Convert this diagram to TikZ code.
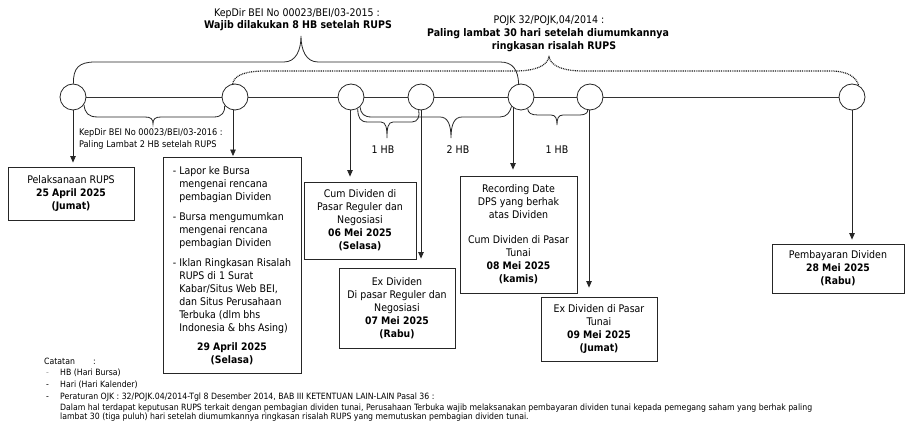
\documentclass[tikz,border=0pt]{standalone}
\usepackage{fontspec}
\setmainfont{DejaVu Sans Condensed}[BoldFont={DejaVu Sans Condensed Bold}]
\usetikzlibrary{arrows.meta}
\newcommand\nfnt{\fontsize{10.5}{13}\selectfont}
\newcommand\sfnt{\fontsize{9.1}{12}\selectfont}
\newcommand\notefnt{\fontsize{8.65}{10}\selectfont}
\newcommand\dt[1]{{\fontsize{10.3}{13}\selectfont\bfseries #1}}
\begin{document}
\begin{tikzpicture}[x=1pt,y=-1pt,
  circ/.style={circle, draw=black!85, line width=0.8pt, minimum size=26pt, inner sep=0pt, fill=white},
  box/.style={draw=black!85, line width=0.8pt, inner sep=0pt, align=center, font=\nfnt, fill=white},
  arr/.style={-{Triangle[length=6.5pt,width=5.5pt]}, line width=0.8pt, black!85},
  brc/.style={line width=0.8pt, black!85},
  dotb/.style={line width=1.2pt, dash pattern=on 0.9pt off 0.9pt, black!90},
  tl/.style={line width=0.8pt, black!80},
  lbl/.style={font=\nfnt, inner sep=0pt},
  note/.style={font=\notefnt, inner sep=0pt, anchor=base west}]
\useasboundingbox (0,0) rectangle (913,435);

% circles
\node[circ] (c1) at (73,97) {};
\node[circ] (c2) at (235,97) {};
\node[circ] (c3) at (351,97) {};
\node[circ] (c4) at (421,97) {};
\node[circ] (c5) at (521,97) {};
\node[circ] (c6) at (590,97) {};
\node[circ] (c7) at (852,97) {};

% timeline
\draw[tl] (c1) -- (c2);
\draw[tl] (c2) -- (c3);
\draw[tl] (c3) -- (c4);
\draw[tl] (c4) -- (c5);
\draw[tl] (c5) -- (c6);
\draw[tl] (c6) -- (c7);

% boxes
\node[box, minimum width=126pt, minimum height=53pt] (b1) at (71,193.5)
  {Pelaksanaan RUPS\\ \dt{25 April 2025}\\ \dt{(Jumat)}};
\node[box, minimum width=138pt, minimum height=216pt] (b2) at (232,265)
  {\begin{tabular}{@{}l@{\hspace{3pt}}l@{}}
   -& Lapor ke Bursa\\
    & mengenai rencana\\
    & pembagian Dividen\\[7pt]
   -& Bursa mengumumkan\\
    & mengenai rencana\\
    & pembagian Dividen\\[7pt]
   -& Iklan Ringkasan Risalah\\
    & RUPS di 1 Surat\\
    & Kabar/Situs Web BEI,\\
    & dan Situs Perusahaan\\
    & Terbuka (dlm bhs\\
    & Indonesia \& bhs Asing)
   \end{tabular}\\[7pt]
   \dt{29 April 2025}\\ \dt{(Selasa)}};
\node[box, minimum width=112pt, minimum height=77pt] (b3) at (360,220.5)
  {Cum Dividen di\\ Pasar Reguler dan\\ Negosiasi\\ \dt{06 Mei 2025}\\ \dt{(Selasa)}};
\node[box, minimum width=116pt, minimum height=80pt] (b4) at (397,308)
  {Ex Dividen\\ Di pasar Reguler dan\\ Negosiasi\\ \dt{07 Mei 2025}\\ \dt{(Rabu)}};
\node[box, minimum width=117pt, minimum height=117pt] (b5) at (518.5,234.5)
  {Recording Date\\ DPS yang berhak\\ atas Dividen\\[12pt] Cum Dividen di Pasar\\ Tunai\\ \dt{08 Mei 2025}\\ \dt{(kamis)}};
\node[box, minimum width=116pt, minimum height=64pt] (b6) at (599,329)
  {Ex Dividen di Pasar\\ Tunai\\ \dt{09 Mei 2025}\\ \dt{(Jumat)}};
\node[box, minimum width=132pt, minimum height=49pt] (b7) at (838,268.5)
  {Pembayaran Dividen\\ \dt{28 Mei 2025}\\ \dt{(Rabu)}};

% vertical connectors
\draw[arr, shorten >=4pt] (c1.south) -- (c1.south |- b1.north);
\draw[arr, shorten >=0.5pt] ([xshift=-2pt]c2.south) -- ([xshift=-2pt]c2.south |- b2.north);
\draw[arr, shorten >=5pt] ([xshift=-1pt]c3.south) -- ([xshift=-1pt]c3.south |- b3.north);
\draw[arr, shorten >=9pt] (c4.south) -- (c4.south |- b4.north);
\draw[arr, shorten >=6pt] ([xshift=-8pt,yshift=-10.2pt]c5.center) -- ([xshift=-8pt]c5.center |- b5.north);
\draw[arr, shorten >=9pt] ([xshift=-1pt]c6.south) -- ([xshift=-1pt]c6.south |- b6.north);
\draw[arr, shorten >=4pt] (c7.south) -- (c7.south |- b7.north);

% upper braces
\draw[brc] (c1.88) .. controls (73,68) and (79,62) .. (95,62) -- (284,62)
  .. controls (296,62) and (301,50) .. (301,36)
  .. controls (301,50) and (306,62) .. (318,62) -- (500,62)
  .. controls (513,62) and (518,70) .. (c5.100);
\draw[dotb] (c2.100) .. controls (234,75) and (246,71) .. (265,71) -- (515,71)
  .. controls (535,71) and (547,66) .. (549,57)
  .. controls (551,66) and (563,71) .. (583,71) -- (830,71)
  .. controls (848,71) and (856,77) .. (c7.60);

% lower braces
\draw[brc] (c1.-35) .. controls (85,113) and (88,117) .. (98,117) -- (145,117)
  .. controls (151,117) and (153,119) .. (153,124)
  .. controls (153,119) and (155,117) .. (161,117) -- (214,117)
  .. controls (222,117) and (225,112) .. (c2.-140);
\draw[brc] (c3.-60) .. controls (358,118) and (360,122) .. (368,122) -- (381,122)
  .. controls (386,122) and (387,128) .. (387,138)
  .. controls (387,128) and (388,122) .. (393,122) -- (412,122)
  .. controls (418,122) and (420,116) .. (c4.-100);
\draw[brc] (c3.-48) .. controls (361,114) and (364,117) .. (372,117) -- (440,117)
  .. controls (448,117) and (451,125) .. (451,138)
  .. controls (451,125) and (454,117) .. (462,117) -- (500,117)
  .. controls (507,117) and (510,112) .. (c5.-135);
\draw[brc] (c5.-60) .. controls (528,113) and (531,115) .. (538,115) -- (551,115)
  .. controls (556,115) and (557,119) .. (557,125)
  .. controls (557,119) and (558,115) .. (563,115) -- (580,115)
  .. controls (586,115) and (588,112) .. (c6.-100);

% labels
\node[lbl, anchor=base] (t1) at (297,16.5) {KepDir BEI No 00023/BEI/03-2015 :};
\node[lbl, anchor=base] (t2) at (298,28.5) {\bfseries Wajib dilakukan 8 HB setelah RUPS};
\node[lbl, anchor=base] (t3) at (549,23.5) {POJK 32/POJK,04/2014 :};
\node[lbl, anchor=base] (t4) at (548,36.5) {\bfseries Paling lambat 30 hari setelah diumumkannya};
\node[lbl, anchor=base] (t5) at (554,49.5) {\bfseries ringkasan risalah RUPS};
\node[lbl, font=\sfnt, anchor=base west] (t6) at (79,136) {KepDir BEI No 00023/BEI/03-2016 :};
\node[lbl, font=\sfnt, anchor=base west] (t7) at (79,148) {Paling Lambat 2 HB setelah RUPS};
\node[lbl] (h1) at (383,150) {1 HB};
\node[lbl] (h2) at (458,150) {2 HB};
\node[lbl] (h3) at (557,150) {1 HB};

% notes
\node[note] (n0) at (44,365) {Catatan};
\node[note] (n0c) at (93,365) {:};
\node[note, text=black!40] (d1) at (46,375.5) {-};
\node[note] (n1) at (60,375.5) {HB (Hari Bursa)};
\node[note] (d2) at (46,387.5) {-};
\node[note] (n2) at (60,387.5) {Hari (Hari Kalender)};
\node[note] (d3) at (46,400) {-};
\node[note] (n3) at (60,400) {Peraturan OJK : 32/POJK.04/2014-Tgl 8 Desember 2014, BAB III KETENTUAN LAIN-LAIN Pasal 36 :};
\node[note] (n4) at (60,410) {Dalam hal terdapat keputusan RUPS terkait dengan pembagian dividen tunai, Perusahaan Terbuka wajib melaksanakan pembayaran dividen tunai kepada pemegang saham yang berhak paling};
\node[note] (n5) at (60,420) {lambat 30 (tiga puluh) hari setelah diumumkannya ringkasan risalah RUPS yang memutuskan pembagian dividen tunai.};
\end{tikzpicture}
\end{document}
